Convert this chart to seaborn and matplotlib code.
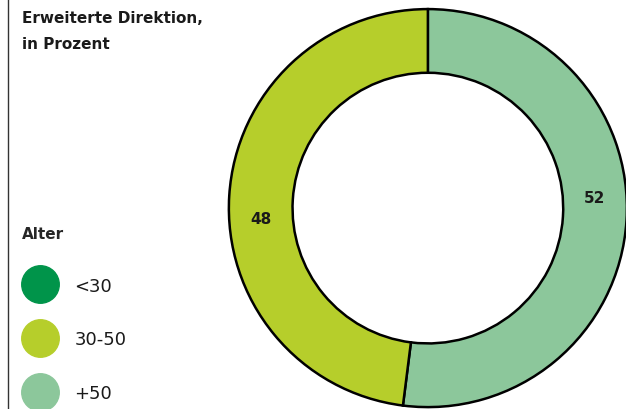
import matplotlib
matplotlib.use("Agg")
import matplotlib.pyplot as plt
from matplotlib.lines import Line2D
import seaborn as sns

# data
age_groups = ["<30", "30-50", "+50"]
shares = [0, 48, 52]
colors = ["#00944a", "#b6ce2b", "#8cc79b"]
title = "Erweiterte Direktion,\nin Prozent"
legend_title = "Alter"

sns.set_theme(style="white")
plt.rcParams["font.family"] = ["DejaVu Sans"]

fig = plt.figure(figsize=(6.26, 4.10), dpi=100)
ax = fig.add_axes([0.364, 0.0, 0.639, 0.98])

# pie only for non-zero shares, drawn clockwise from the top starting with +50
pie_vals = [v for v in shares if v > 0][::-1]
pie_cols = [c for v, c in zip(shares, colors) if v > 0][::-1]
wedges, _, autotexts = ax.pie(
    pie_vals, colors=pie_cols, startangle=90, counterclock=False,
    autopct=lambda p: f"{p:.0f}", pctdistance=0.84,
    wedgeprops=dict(width=0.32, edgecolor="black", linewidth=1.8),
    textprops=dict(fontsize=11, fontweight="bold", color="#1a1a1a"),
)
# the reference puts the value labels mirrored across the horizontal axis
for t in autotexts:
    x, y = t.get_position()
    t.set_position((x, -y))
ax.set_xlim(-1.005, 1.005)
ax.set_ylim(-1.005, 1.005)
ax.set_aspect("equal")
ax.axis("off")

# title
fig.text(22 / 626, 1 - 11 / 410, title, ha="left", va="top", fontsize=11,
         fontweight="bold", color="#1a1a1a", linespacing=1.9)

# vertical rule on the left
fig.add_artist(Line2D([8 / 626, 8 / 626], [0, 1], color="#333333", lw=1.0))

# legend
handles = [Line2D([], [], marker="o", linestyle="", markersize=27,
                  markerfacecolor=c, markeredgecolor=c) for c in colors]
leg = fig.legend(handles, age_groups, title=legend_title, loc="upper left",
                 bbox_to_anchor=(15 / 626, 1 - 220 / 410), frameon=False,
                 fontsize=13, title_fontproperties=dict(weight="bold", size=11),
                 labelspacing=1.97, handletextpad=0.9, borderaxespad=0,
                 alignment="left")
for t in leg.get_texts():
    t.set_color("#1a1a1a")

fig.savefig("out.png", dpi=100)
